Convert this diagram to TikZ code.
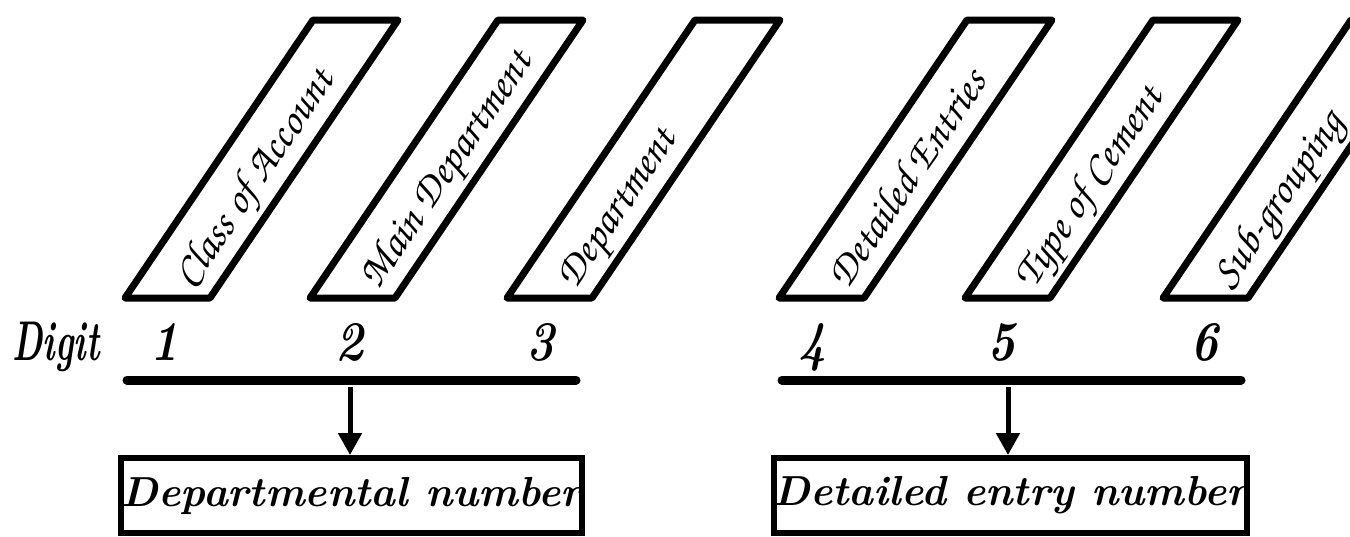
\documentclass[tikz,border=0pt]{standalone}
\usepackage[T1,TU]{fontenc}
\usepackage{graphicx}
\usetikzlibrary{arrows.meta,calc}

% calligraphic hand for the slanted field names
\newcommand\fieldhand{\fontencoding{T1}\fontfamily{pzc}\fontseries{mb}\fontshape{it}\fontsize{21.5}{24}\selectfont}
% heavy italic for digits and result boxes
\newcommand\heavyhand{\fontsize{28}{30}\selectfont\bfseries\itshape}
\newcommand\boxhand{\fontsize{21}{24}\selectfont\bfseries\itshape}
\newcommand\narrow[2]{\scalebox{#1}[1]{#2}}

\tikzset{
  slot/.style={line width=3.5pt, line join=round},
  fieldname/.style={rotate=55.9, anchor=base west, inner sep=0pt, font=\fieldhand},
  digitlabel/.style={anchor=base, inner sep=0pt, font=\heavyhand},
  bar/.style={line width=4.5pt, line cap=round},
  resultbox/.style={draw, line width=3pt, minimum height=37.5pt, inner sep=0pt, font=\boxhand},
  feed/.style={line width=2.5pt, -{Triangle[length=11pt,width=11.5pt]}}
}

% slanted slot: bottom-left x, label, node name
% (the label's baseline runs just below the slot's centre line)
\newcommand\slotbox[3]{%
  \draw[slot] (#1,298) -- ++(85,0) -- ++(188,-278) -- ++(-85,0) -- cycle;
  \node[fieldname] (#3) at ($($(#1+42.5,298)!0.06!(#1+230.5,20)$)+(14,9.5)$) {#2};
}

\begin{document}
\begin{tikzpicture}[x=0.5pt,y=-0.5pt]
  \useasboundingbox (0,0) rectangle (1350,536);
  \clip (0,0) rectangle (1350,536);
  \fill[white] (0,0) rectangle (1350,536);

  % six digit fields
  \slotbox{125}{Class of Account}{f1}
  \slotbox{310}{Main Department}{f2}
  \slotbox{507}{Department}{f3}
  \slotbox{779}{Detailed Entries}{f4}
  \slotbox{965}{Type of Cement}{f5}
  \slotbox{1163}{Sub-grouping}{f6}

  % digit row
  \node[digitlabel, anchor=base west] (digit) at (12,360) {\narrow{0.62}{Digit}};
  \node[digitlabel] (d1) at (165,360) {\narrow{0.85}{1}};
  \node[digitlabel] (d2) at (350,360) {\narrow{0.85}{2}};
  \node[digitlabel] (d3) at (541,360) {\narrow{0.85}{3}};
  \node[digitlabel] (d4) at (813,360) {\narrow{0.85}{4}};
  \node[digitlabel] (d5) at (1002,360) {\narrow{0.85}{5}};
  \node[digitlabel] (d6) at (1205,360) {\narrow{0.85}{6}};

  % grouping bars
  \coordinate (g1a) at (127,380);
  \coordinate (g1b) at (576,380);
  \coordinate (g2a) at (782,380);
  \coordinate (g2b) at (1241,380);
  \draw[bar] (g1a) -- (g1b);
  \draw[bar] (g2a) -- (g2b);
  \coordinate (g1m) at (350,387);
  \coordinate (g2m) at (1008,387);

  % resulting numbers
  \node[resultbox, minimum width=228.5pt] (dept) at (351.5,495.5) {Departmental number};
  \node[resultbox, minimum width=233.5pt] (entry) at (1010.5,495.5) {Detailed entry number};

  \draw[feed] (g1m) -- (g1m |- dept.north);
  \draw[feed] (g2m) -- (g2m |- entry.north);
\end{tikzpicture}
\end{document}
